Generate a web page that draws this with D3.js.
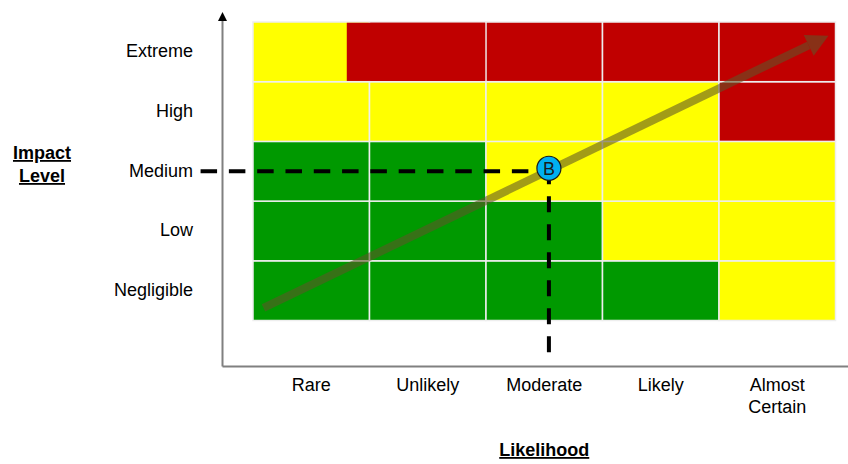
<!DOCTYPE html>
<html>
<head>
<meta charset="utf-8">
<script src="https://cdn.jsdelivr.net/npm/d3@7"></script>
<style>
  html, body { margin: 0; padding: 0; background: #fff; }
  svg { display: block; font-family: "Liberation Sans", Arial, sans-serif; }
</style>
</head>
<body>
<svg id="chart" width="848" height="464"></svg>
<script>
// Risk matrix: likelihood (columns) against impact (rows)
const likelihood = ["Rare", "Unlikely", "Moderate", "Likely", "Almost Certain"];
const impact = ["Negligible", "Low", "Medium", "High", "Extreme"];

// Rating per cell, rows ordered Negligible → Extreme, columns Rare → Almost Certain
const ratingRows = [
  ["low",    "low",    "low",    "low",    "medium"],
  ["low",    "low",    "low",    "medium", "medium"],
  ["low",    "low",    "medium", "medium", "medium"],
  ["medium", "medium", "medium", "medium", "high"],
  ["medium", "high",   "high",   "high",   "high"]
];
const ratingColors = { low: "#009900", medium: "#ffff00", high: "#c00000" };

// Assessed risk "B" (in likelihood / impact units, 1 = first category)
const riskPoint = { label: "B", likelihood: 3.04, impact: 3.05 };
// Guide lines: horizontal one at the "Medium" level, vertical one below the point
const guideImpact = 3.0;
const guideLikelihoodStart = 0.05;
const guideImpactEnd = -0.03;

// Overall trend of risk rising with likelihood
const trend = [
  { likelihood: 0.59, impact: 0.71 },
  { likelihood: 5.44, impact: 5.27 }
];

const svg = d3.select("#chart");

const gridLeft = 253, gridRight = 835.5, gridTop = 22, gridBottom = 320.5;

const x = d3.scaleBand().domain(likelihood).range([gridLeft, gridRight]);
const y = d3.scaleBand().domain(impact).range([gridBottom, gridTop]);
const xv = d3.scaleLinear().domain([0.5, 5.5]).range([gridLeft, gridRight]);
const yv = d3.scaleLinear().domain([0.5, 5.5]).range([gridBottom, gridTop]);

// Cells
const cells = [];
ratingRows.forEach((row, ri) => row.forEach((r, ci) => {
  cells.push({ likelihood: likelihood[ci], impact: impact[ri], rating: r });
}));

const gCells = svg.append("g");
gCells.selectAll("rect").data(cells).join("rect")
  .attr("x", d => x(d.likelihood))
  .attr("y", d => y(d.impact))
  .attr("width", x.bandwidth())
  .attr("height", y.bandwidth())
  .attr("fill", d => ratingColors[d.rating])
  .attr("stroke", "#eeeeee")
  .attr("stroke-width", 1.5);

// The extreme-impact red zone reaches into the last part of the "Rare" cell
const redStart = x("Rare") + x.bandwidth() * 0.805;
gCells.append("rect")
  .attr("x", redStart)
  .attr("y", y("Extreme") + 0.75)
  .attr("width", x("Moderate") - redStart - 0.75)
  .attr("height", y.bandwidth() - 1.5)
  .attr("fill", ratingColors.high);

// Axes
const axisColor = "#808080";
const axisX = gridLeft - 30.5;
const axisY = gridBottom + 46;
svg.append("line")
  .attr("x1", axisX).attr("x2", 848)
  .attr("y1", axisY).attr("y2", axisY)
  .attr("stroke", axisColor).attr("stroke-width", 2);
svg.append("line")
  .attr("x1", axisX).attr("x2", axisX)
  .attr("y1", axisY).attr("y2", gridTop - 3)
  .attr("stroke", axisColor).attr("stroke-width", 2);
svg.append("path")
  .attr("d", `M${axisX},${gridTop - 10} L${axisX - 4.5},${gridTop - 1} L${axisX + 4.5},${gridTop - 1} Z`)
  .attr("fill", "#000");

// Trend arrow
const p0 = [xv(trend[0].likelihood), yv(trend[0].impact)];
const p1 = [xv(trend[1].likelihood), yv(trend[1].impact)];
const dx = p1[0] - p0[0], dy = p1[1] - p0[1];
const len = Math.hypot(dx, dy);
const ux = dx / len, uy = dy / len;
const nx = -uy, ny = ux;
const headLen = 22, headHalf = 11.5;
const base = [p1[0] - ux * headLen, p1[1] - uy * headLen];
const trendColor = "rgba(95, 85, 40, 0.58)";
svg.append("line")
  .attr("x1", p0[0]).attr("y1", p0[1])
  .attr("x2", base[0]).attr("y2", base[1])
  .attr("stroke", trendColor).attr("stroke-width", 8);
svg.append("path")
  .attr("d", `M${p1[0]},${p1[1]} L${base[0] + nx * headHalf},${base[1] + ny * headHalf} L${base[0] - nx * headHalf},${base[1] - ny * headHalf} Z`)
  .attr("fill", trendColor);

// Guide lines from the assessed risk
const px = xv(riskPoint.likelihood), py = yv(riskPoint.impact);
const gy = yv(guideImpact);
svg.append("line")
  .attr("x1", xv(guideLikelihoodStart)).attr("y1", gy)
  .attr("x2", px).attr("y2", gy)
  .attr("stroke", "#000").attr("stroke-width", 4)
  .attr("stroke-dasharray", "16.5,11.8");
svg.append("line")
  .attr("x1", px).attr("y1", yv(guideImpactEnd))
  .attr("x2", px).attr("y2", py)
  .attr("stroke", "#000").attr("stroke-width", 4)
  .attr("stroke-dasharray", "16,12");

svg.append("circle")
  .attr("cx", px).attr("cy", py).attr("r", 12)
  .attr("fill", "#00b0f0").attr("stroke", "#1a1a1a").attr("stroke-width", 1.2);
svg.append("text")
  .attr("x", px).attr("y", py + 6.5)
  .attr("text-anchor", "middle")
  .attr("font-size", 18)
  .attr("fill", "#1a1a1a")
  .text(riskPoint.label);

// Impact labels
svg.append("g").selectAll("text").data(impact).join("text")
  .attr("x", 193)
  .attr("y", d => y(d) + y.bandwidth() / 2 + 5.5)
  .attr("text-anchor", "end")
  .attr("font-size", 18)
  .attr("fill", "#000")
  .text(d => d);

// Likelihood labels (wrapped on spaces)
const xl = svg.append("g").selectAll("text").data(likelihood).join("text")
  .attr("text-anchor", "middle")
  .attr("font-size", 18)
  .attr("fill", "#000")
  .attr("x", d => x(d) + x.bandwidth() / 2)
  .attr("y", 391);
xl.each(function (d) {
  const words = d.split(" ");
  const t = d3.select(this);
  const cx = x(d) + x.bandwidth() / 2;
  words.forEach((w, i) => {
    t.append("tspan").attr("x", cx).attr("dy", i === 0 ? 0 : 22).text(w);
  });
});

// Axis titles
const titleStyle = sel => sel
  .attr("text-anchor", "middle")
  .attr("font-size", 18)
  .attr("font-weight", "bold")
  .attr("text-decoration", "underline")
  .attr("fill", "#000");
svg.append("text").call(titleStyle).attr("x", 42).attr("y", 159).text("Impact");
svg.append("text").call(titleStyle).attr("x", 42).attr("y", 182).text("Level");
svg.append("text").call(titleStyle).attr("x", x("Moderate") + x.bandwidth() / 2).attr("y", 456).text("Likelihood");
</script>
</body>
</html>
